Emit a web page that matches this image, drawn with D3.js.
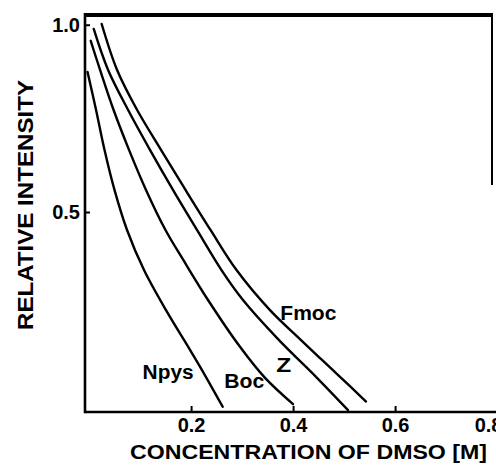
<!DOCTYPE html>
<html>
<head>
<meta charset="utf-8">
<script src="https://cdn.jsdelivr.net/npm/d3@7"></script>
<style>
  html, body { margin: 0; padding: 0; background: #fff; overflow: hidden; }
  svg { display: block; }
  text { font-family: "Liberation Sans", Arial, sans-serif; font-weight: bold; fill: #000; }
</style>
</head>
<body>
<svg id="chart" width="496" height="473" viewBox="0 0 496 473"></svg>
<script>
// ---- data ----
const seriesNames = ["Npys", "Boc", "Z", "Fmoc"];
const npysConc = [-0.003, 0.0136, 0.0302, 0.0498, 0.0744, 0.1077, 0.1508, 0.1979, 0.2214, 0.262];
const npysInt  = [0.874, 0.773, 0.666, 0.559, 0.452, 0.345, 0.238, 0.132, 0.078, -0.020];
const bocConc  = [0.0032, 0.0214, 0.0479, 0.0783, 0.1116, 0.1498, 0.1847, 0.2332, 0.2959, 0.3450, 0.3998];
const bocInt   = [0.957, 0.880, 0.773, 0.666, 0.559, 0.452, 0.372, 0.265, 0.140, 0.057, -0.013];
const zConc    = [0.0091, 0.0371, 0.0763, 0.1194, 0.1645, 0.2116, 0.2596, 0.3018, 0.3724, 0.4449, 0.5077];
const zInt     = [0.989, 0.880, 0.773, 0.666, 0.559, 0.452, 0.345, 0.265, 0.158, 0.060, -0.029];
const fmocConc = [0.0247, 0.0547, 0.0940, 0.1410, 0.1891, 0.2381, 0.2891, 0.3547, 0.4155, 0.4567, 0.4920, 0.5430];
const fmocInt  = [1.002, 0.880, 0.773, 0.666, 0.559, 0.452, 0.345, 0.238, 0.158, 0.105, 0.060, -0.006];
const xTicks = [0.2, 0.4, 0.6, 0.8];
const yTicks = [0.5, 1.0];
const xTitle = "CONCENTRATION OF DMSO [M]";
const yTitle = "RELATIVE INTENSITY";
// label anchor points in data units (concentration, intensity)
const labelConc = [0.105, 0.265, 0.367, 0.375];
const labelInt  = [0.053, 0.030, 0.073, 0.212];

const seriesConc = [npysConc, bocConc, zConc, fmocConc];
const seriesInt  = [npysInt, bocInt, zInt, fmocInt];

(function () {
  const svg = d3.select("#chart");
  const mLeft = 85, mRight = 492, mTop = 15, mBottom = 412;

  const x = d3.scaleLinear().domain([-0.008, 0.79]).range([mLeft, mRight]);
  const y = d3.scaleLinear().domain([-0.034, 1.026]).range([mBottom, mTop]);

  // x axis
  const xAxis = svg.append("g").attr("transform", `translate(0,${mBottom})`)
    .call(d3.axisBottom(x).tickValues(xTicks).tickFormat(d3.format(".1f")).tickSize(-6).tickPadding(16));
  xAxis.select(".domain").remove();
  xAxis.selectAll(".tick line").attr("stroke", "#000").attr("stroke-width", 2);
  xAxis.selectAll(".tick text").attr("font-size", 20).attr("dy", "0.2em").attr("fill", "#000")
    .attr("dx", d => d === 0.8 ? -9 : 0)
    .style("font-family", "'Liberation Sans', Arial, sans-serif").style("font-weight", "bold");

  // y axis
  const yAxis = svg.append("g").attr("transform", `translate(${mLeft},0)`)
    .call(d3.axisLeft(y).tickValues(yTicks).tickFormat(d3.format(".1f")).tickSize(-5).tickPadding(5));
  yAxis.select(".domain").remove();
  yAxis.selectAll(".tick line").attr("stroke", "#000").attr("stroke-width", 2);
  yAxis.selectAll(".tick text").attr("font-size", 20).attr("fill", "#000")
    .style("font-family", "'Liberation Sans', Arial, sans-serif").style("font-weight", "bold");

  // curves
  const lineGen = d3.line().x(d => x(d[0])).y(d => y(d[1])).curve(d3.curveCatmullRom.alpha(0.5));
  seriesNames.forEach((name, i) => {
    const pts = seriesConc[i].map((c, j) => [c, seriesInt[i][j]]);
    svg.append("path").datum(pts).attr("d", lineGen)
      .attr("fill", "none").attr("stroke", "#000").attr("stroke-width", 2.4)
      .attr("stroke-linecap", "round");
  });

  // curve labels
  const labelWidths = [51, 40, 15, 56];
  seriesNames.forEach((name, i) => {
    svg.append("text").attr("x", x(labelConc[i])).attr("y", y(labelInt[i]))
      .attr("font-size", 20).attr("textLength", labelWidths[i]).attr("lengthAdjust", "spacingAndGlyphs")
      .text(name);
  });

  // axis titles
  svg.append("text").attr("x", 130).attr("y", 459).attr("font-size", 20)
    .attr("textLength", 357).attr("lengthAdjust", "spacingAndGlyphs").text(xTitle);
  svg.append("text").attr("transform", "translate(33,330) rotate(-90)").attr("font-size", 22)
    .attr("textLength", 250).attr("lengthAdjust", "spacingAndGlyphs").text(yTitle);

  // frame lines (drawn last)
  const frame = svg.append("g").attr("stroke", "#000").attr("fill", "none");
  frame.append("line").attr("x1", mLeft - 1).attr("y1", mTop).attr("x2", mRight + 1).attr("y2", mTop)
    .attr("stroke-width", 4);
  frame.append("line").attr("x1", mRight).attr("y1", mTop).attr("x2", mRight).attr("y2", 185)
    .attr("stroke-width", 2);
  frame.append("line").attr("x1", mLeft).attr("y1", mBottom).attr("x2", 496).attr("y2", mBottom)
    .attr("stroke-width", 2.6);
  frame.append("line").attr("x1", mLeft).attr("y1", mTop - 2).attr("x2", mLeft).attr("y2", mBottom + 1.3)
    .attr("stroke-width", 2.6);
})();
</script>
</body>
</html>
